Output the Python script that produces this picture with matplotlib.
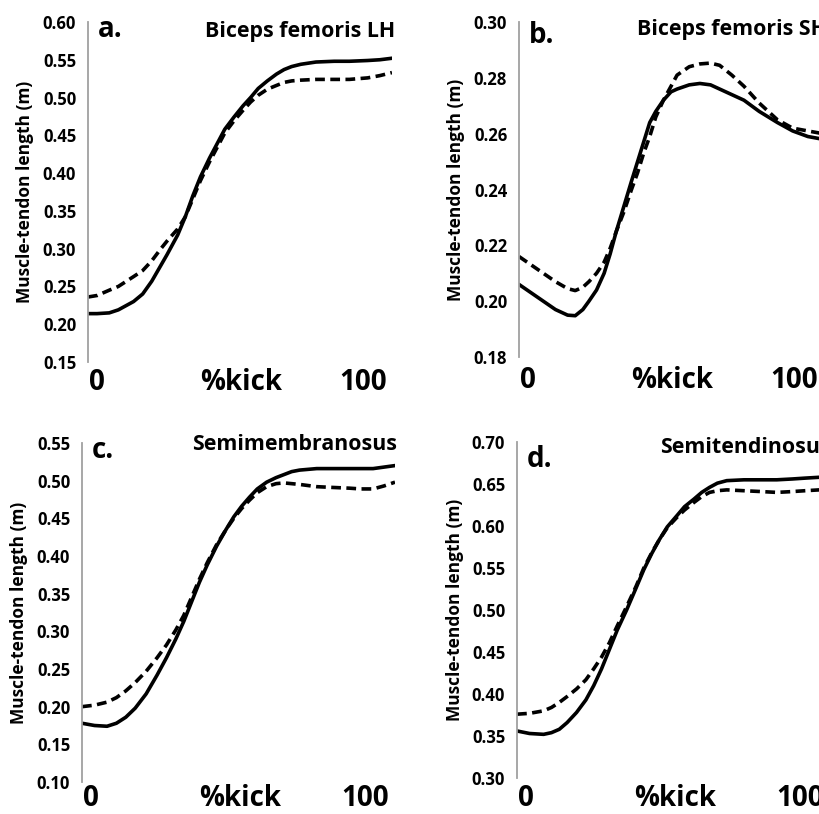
import matplotlib.pyplot as plt
from matplotlib.ticker import FixedLocator

plt.rcParams['font.family'] = ['Open Sans', 'DejaVu Sans']
plt.rcParams['font.weight'] = 'bold'

# Panel a - Biceps femoris LH
a_x = [0, 3, 7, 10, 15, 18, 21, 24, 26, 29.5, 32, 34.5, 37, 40, 42.5, 45, 48, 51,
       53.5, 56, 59, 62, 64.5, 67, 70, 75, 81, 86, 92, 96, 100]
a_solid = [0.214, 0.214, 0.215, 0.219, 0.230, 0.240, 0.257, 0.278, 0.292, 0.318, 0.342,
           0.370, 0.395, 0.420, 0.439, 0.458, 0.474, 0.489, 0.500, 0.512, 0.522, 0.531,
           0.537, 0.541, 0.544, 0.547, 0.548, 0.548, 0.549, 0.550, 0.552]
a_dash = [0.236, 0.238, 0.245, 0.250, 0.263, 0.271, 0.284, 0.300, 0.310, 0.326, 0.342,
          0.366, 0.390, 0.415, 0.434, 0.453, 0.469, 0.483, 0.494, 0.503, 0.511, 0.516,
          0.520, 0.522, 0.523, 0.524, 0.524, 0.524, 0.526, 0.529, 0.533]

# Panel b - Biceps femoris SH
b_x = [0, 4, 8, 12, 16, 18.5, 21, 23, 25.5, 28, 30, 32, 34.5, 37, 39, 41, 43, 45,
       47.5, 50, 52, 56, 59.5, 63, 66, 70, 74, 79, 85, 90, 95, 100]
b_solid = [0.206, 0.203, 0.200, 0.197, 0.195, 0.1948, 0.197, 0.200, 0.204, 0.210, 0.217,
           0.225, 0.234, 0.243, 0.250, 0.257, 0.264, 0.268, 0.272, 0.275, 0.276, 0.2775,
           0.278, 0.2775, 0.276, 0.274, 0.272, 0.268, 0.264, 0.261, 0.259, 0.258]
b_dash = [0.216, 0.213, 0.210, 0.207, 0.2045, 0.2038, 0.205, 0.207, 0.210, 0.214, 0.219,
          0.225, 0.232, 0.240, 0.246, 0.253, 0.259, 0.266, 0.272, 0.277, 0.281, 0.284,
          0.285, 0.2853, 0.2845, 0.281, 0.277, 0.271, 0.265, 0.262, 0.261, 0.260]

# Panel c - Semimembranosus
c_x = [0, 4, 8, 11, 14, 17, 20.5, 24, 27, 30, 32.5, 35, 37.5, 40, 43, 46, 48.5, 51,
       53.5, 56, 59, 62, 64.5, 67, 69.5, 75, 80, 85.5, 89, 93, 96.5, 100]
c_solid = [0.178, 0.175, 0.174, 0.178, 0.186, 0.198, 0.217, 0.242, 0.265, 0.290, 0.313,
           0.339, 0.365, 0.388, 0.413, 0.435, 0.452, 0.466, 0.478, 0.489, 0.498, 0.504,
           0.508, 0.512, 0.514, 0.516, 0.516, 0.516, 0.516, 0.516, 0.518, 0.520]
c_dash = [0.200, 0.202, 0.206, 0.212, 0.221, 0.232, 0.247, 0.265, 0.282, 0.302, 0.321,
          0.345, 0.369, 0.391, 0.415, 0.435, 0.450, 0.463, 0.474, 0.484, 0.492, 0.496,
          0.497, 0.496, 0.495, 0.492, 0.491, 0.490, 0.489, 0.489, 0.493, 0.498]

# Panel d - Semitendinosus
d_x = [0, 4, 8.5, 11, 13.5, 16, 19, 22, 24.5, 27, 29.5, 32, 35, 38, 40.5, 43, 45.5, 48,
       51, 53.5, 56.5, 59, 61.5, 64, 67, 72.5, 78, 83, 88, 92, 96.5, 100]
d_solid = [0.356, 0.353, 0.352, 0.354, 0.358, 0.366, 0.378, 0.393, 0.410, 0.430, 0.453,
           0.476, 0.500, 0.526, 0.548, 0.567, 0.584, 0.599, 0.612, 0.623, 0.632, 0.640,
           0.646, 0.651, 0.654, 0.655, 0.655, 0.655, 0.656, 0.657, 0.658, 0.659]
d_dash = [0.376, 0.377, 0.380, 0.384, 0.390, 0.397, 0.406, 0.417, 0.430, 0.444, 0.461,
          0.481, 0.504, 0.528, 0.550, 0.568, 0.584, 0.598, 0.610, 0.619, 0.628, 0.635,
          0.640, 0.642, 0.643, 0.642, 0.641, 0.640, 0.641, 0.642, 0.643, 0.644]

letters = ["a.", "b.", "c.", "d."]
titles = ["Biceps femoris LH", "Biceps femoris SH", "Semimembranosus", "Semitendinosus"]
ylims = [(0.15, 0.60), (0.18, 0.30), (0.10, 0.55), (0.30, 0.70)]
ysteps = [0.05, 0.02, 0.05, 0.05]
xlabels = ["0", "%kick", "100"]

fig = plt.figure(figsize=(8.19, 8.14), dpi=100)

# axes boxes in figure fraction (right-hand panels run past the edge, as in the source)
boxes = [
    [0.1074, 0.5553, 0.3712, 0.4177],
    [0.6337, 0.5614, 0.3712, 0.4115],
    [0.1001, 0.0393, 0.3822, 0.4165],
    [0.6313, 0.0442, 0.3822, 0.4128],
]
# per-panel text placement: (letter y, title x, title ha, title y, xlabel baseline y)
placing = [
    (0.956, 1.01, "right", 0.956, -0.082),
    (0.937, 0.388, "left", 0.960, -0.093),
    (0.956, 1.006, "right", 0.979, -0.070),
    (0.926, 0.457, "left", 0.967, -0.083),
]

data = [(a_x, a_solid, a_dash), (b_x, b_solid, b_dash),
        (c_x, c_solid, c_dash), (d_x, d_solid, d_dash)]

for i in range(4):
    ax = fig.add_axes(boxes[i])
    x, solid, dash = data[i]
    ax.plot(x, solid, color="black", lw=2.6, solid_capstyle="round", solid_joinstyle="round")
    ax.plot(x, dash, color="black", lw=2.6, linestyle=(0, (2.7, 1.5)))

    lo, hi = ylims[i]
    ax.set_xlim(0, 100)
    ax.set_ylim(lo, hi)
    n = int(round((hi - lo) / ysteps[i]))
    ticks = [lo + k * ysteps[i] for k in range(n + 1)]
    ax.set_yticks(ticks)
    ax.set_yticklabels([f"{t:.2f}" for t in ticks], fontsize=12, fontweight="bold")
    ax.yaxis.set_minor_locator(FixedLocator([lo, hi]))
    ax.tick_params(axis="y", which="major", length=0, pad=8.5)
    ax.tick_params(axis="y", which="minor", length=5, width=1.2, color="#a0a0a0")
    ax.set_xticks([])

    for s in ["top", "right", "bottom"]:
        ax.spines[s].set_visible(False)
    ax.spines["left"].set_color("#a0a0a0")
    ax.spines["left"].set_linewidth(1.3)

    ax.set_ylabel("Muscle-tendon length (m)", fontsize=12.5, fontweight="bold", labelpad=6)

    ly, tx, tha, ty, xly = placing[i]
    ax.text(0.032, ly, letters[i], transform=ax.transAxes, fontsize=20,
            fontweight="bold", ha="left", va="baseline")
    ax.text(tx, ty, titles[i], transform=ax.transAxes, fontsize=15.4,
            fontweight="bold", ha=tha, va="baseline")

    for xp, lab in zip([0.03, 0.505, 0.905], xlabels):
        ax.text(xp, xly, lab, transform=ax.transAxes, fontsize=20,
                fontweight="bold", ha="center", va="baseline", clip_on=False)

fig.savefig("out.png", dpi=100)
